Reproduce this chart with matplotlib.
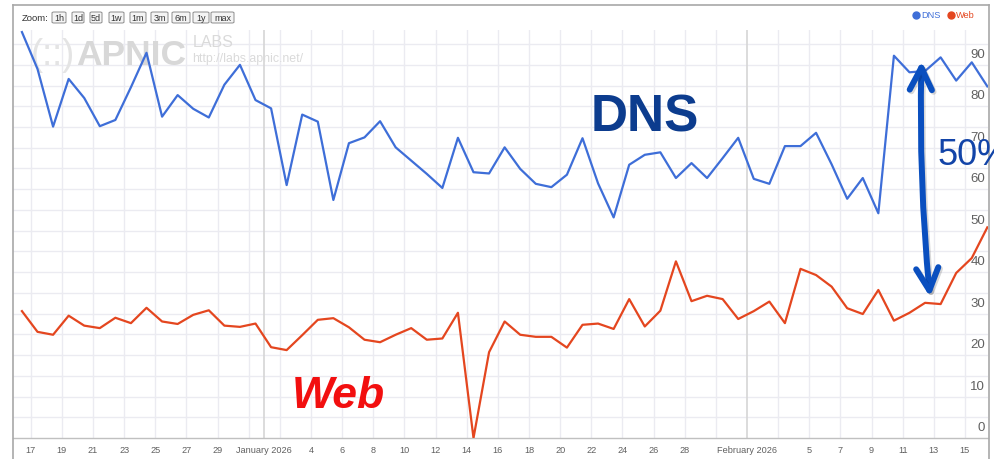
import matplotlib
matplotlib.use("Agg")
import matplotlib.pyplot as plt
import matplotlib.patheffects as pe
import numpy as np
import pandas as pd
from matplotlib.patches import FancyArrowPatch, FancyBboxPatch
from matplotlib.lines import Line2D

plt.rcParams['font.family'] = ['Liberation Sans', 'DejaVu Sans']

# daily samples, 16 Dec 2025 .. 16 Feb 2026
dates = pd.date_range("2025-12-16 10:30", periods=63, freq="D")

dns = [97.9, 89.0, 75.1, 86.6, 82.0, 75.2, 76.7, 84.6, 92.9, 77.5,
       82.7, 79.4, 77.3, 85.2, 90.0, 81.5, 79.5, 61.0, 78.0, 76.3,
       57.4, 71.1, 72.5, 76.4, 70.1, 66.9, 63.7, 60.3, 72.4, 64.1,
       63.8, 70.1, 64.9, 61.3, 60.5, 63.5, 72.3, 61.4, 53.2, 65.9,
       68.3, 68.9, 62.7, 66.3, 62.7, 67.5, 72.4, 62.5, 61.3, 70.4,
       70.4, 73.6, 66.0, 57.7, 62.7, 54.2, 92.2, 88.2, 88.5, 91.8,
       86.2, 90.6, 84.8]

web = [30.6, 25.6, 24.9, 29.5, 27.1, 26.5, 29.0, 27.7, 31.4, 28.1,
       27.5, 29.7, 30.8, 27.1, 26.8, 27.6, 21.9, 21.2, 24.8, 28.5,
       28.9, 26.7, 23.7, 23.1, 24.9, 26.5, 23.7, 24.0, 30.2, 0.0,
       20.7, 28.1, 24.9, 24.4, 24.4, 21.8, 27.3, 27.6, 26.3, 33.5,
       26.9, 30.7, 42.6, 33.0, 34.3, 33.5, 28.7, 30.6, 32.9, 27.7,
       40.8, 39.3, 36.5, 31.3, 29.9, 35.7, 28.3, 30.2, 32.6, 32.3,
       39.8, 43.4, 50.8]

tick_days = ["2025-12-17", "2025-12-19", "2025-12-21", "2025-12-23", "2025-12-25",
             "2025-12-27", "2025-12-29", "2026-01-01", "2026-01-04", "2026-01-06",
             "2026-01-08", "2026-01-10", "2026-01-12", "2026-01-14", "2026-01-16",
             "2026-01-18", "2026-01-20", "2026-01-22", "2026-01-24", "2026-01-26",
             "2026-01-28", "2026-02-01", "2026-02-05", "2026-02-07", "2026-02-09",
             "2026-02-11", "2026-02-13", "2026-02-15"]
tick_labels = ["17", "19", "21", "23", "25", "27", "29", "January 2026", "4", "6",
               "8", "10", "12", "14", "16", "18", "20", "22", "24", "26",
               "28", "February 2026", "5", "7", "9", "11", "13", "15"]
extra_grid_days = ["2025-12-31", "2026-01-02", "2026-01-30", "2026-02-03"]
month_days = ["2026-01-01", "2026-02-01"]
y_labels = list(range(0, 100, 10))

zoom_buttons = ["1h", "1d", "5d", "1w", "1m", "3m", "6m", "1y", "max"]

W, H = 995, 460
fig = plt.figure(figsize=(W / 100, H / 100), dpi=100)


def fx(x):
    return x / W


def fy(y):
    return 1 - y / H


ax = fig.add_axes([fx(13), fy(439), (988 - 13) / W, (439 - 31) / H])
ax.set_xlim(pd.Timestamp("2025-12-15 20:43"), pd.Timestamp("2026-02-16 11:31"))
ax.set_ylim(0, 98.4)

# grid
for v in np.arange(5, 100, 5):
    ax.axhline(v, color='#ebebf1', lw=1.0, zorder=0.5)
for d in list(tick_days) + extra_grid_days:
    if d in month_days:
        continue
    ax.axvline(pd.Timestamp(d), color='#ebebf1', lw=1.0, zorder=0.5)
for d in month_days:
    ax.axvline(pd.Timestamp(d), color='#d6d6d6', lw=1.2, zorder=0.6)

for s in ['top', 'right', 'left']:
    ax.spines[s].set_visible(False)
ax.spines['bottom'].set_color('#c0c0c0')
ax.spines['bottom'].set_linewidth(1.0)

ax.set_yticks([])
ax.set_xticks(pd.to_datetime(tick_days))
ax.set_xticklabels(tick_labels)
ax.tick_params(axis='x', length=0, pad=5.2, labelsize=6.6, labelcolor='#606060')

for v in y_labels:
    ax.annotate(str(v), xy=(1, v), xycoords=('axes fraction', 'data'),
                xytext=(-3, 11), textcoords='offset pixels',
                ha='right', va='center', fontsize=9.5, color='#606060')

# watermark
ax.text(fx(31), fy(65), "(::)", transform=fig.transFigure, fontsize=26,
        color='#e4e4e4', ha='left', va='baseline', zorder=0.7)
ax.text(fx(76), fy(65), "APNIC", transform=fig.transFigure, fontsize=25.5,
        color='#d8d8d8', fontweight='bold', ha='left', va='baseline', zorder=0.7)
ax.text(fx(193), fy(47), "LABS", transform=fig.transFigure, fontsize=11.5,
        color='#dadada', ha='left', va='baseline', zorder=0.7)
ax.text(fx(192), fy(62), "http://labs.apnic.net/", transform=fig.transFigure,
        fontsize=8.9, color='#dadada', ha='left', va='baseline', zorder=0.7)

# series
ax.plot(dates, dns, color='#3e6ed8', lw=1.6, zorder=3)
ax.plot(dates, web, color='#e4461f', lw=1.6, zorder=3)

# frame
for xs, ys in [((12.5, 989.5), (6, 6)), ((12.5, 12.5), (6, 460)), ((989.5, 989.5), (6, 460))]:
    fig.add_artist(Line2D([fx(x) for x in xs], [fy(y) for y in ys],
                          color='#a8a8a8', lw=1.2))

# zoom bar
fig.text(fx(22), fy(18.5), "Zoom:", fontsize=6.8, color='#333333', ha='left', va='center')
btn_x = [52, 72, 90, 109, 130, 151, 172, 193, 211]
btn_w = [14, 12, 12, 15, 16, 17, 18, 16, 23]
for lab, bx, bw in zip(zoom_buttons, btn_x, btn_w):
    fig.add_artist(FancyBboxPatch((fx(bx), fy(24)), bw / W, 11 / H,
                                  boxstyle="round,pad=0,rounding_size=0.002",
                                  transform=fig.transFigure, facecolor='#f4f4f4',
                                  edgecolor='#8c8c8c', lw=0.7))
    fig.text(fx(bx + bw / 2), fy(18.5), lab, fontsize=6.5, color='#333333',
             ha='center', va='center')

# legend
fig.add_artist(Line2D([fx(916)], [fy(16)], marker='o', ms=5, color='#3e6ed8', lw=0))
fig.text(fx(921), fy(16), "DNS", fontsize=6.6, color='#3e6ed8', ha='left', va='center')
fig.add_artist(Line2D([fx(951)], [fy(16)], marker='o', ms=5, color='#e4461f', lw=0))
fig.text(fx(956), fy(16), "Web", fontsize=6.6, color='#e4461f', ha='left', va='center')

# hand-drawn annotations
fig.text(fx(591), fy(131), "DNS", fontsize=37, fontweight='bold', color='#0c3c8e',
         ha='left', va='baseline')
fig.text(fx(292), fy(408), "Web", fontsize=32, fontweight='bold', style='italic',
         color='#f20f0f', ha='left', va='baseline')
fig.text(fx(938), fy(165), "50%", fontsize=26, color='#1244a8',
         ha='left', va='baseline')

arrow = FancyArrowPatch((fx(921.5), fy(62)), (fx(930), fy(298)),
                        transform=fig.transFigure,
                        arrowstyle='<->,head_length=16,head_width=8',
                        connectionstyle='arc3,rad=0.03',
                        color='#0a4fbf', lw=4.3, shrinkA=0, shrinkB=0,
                        capstyle='round', joinstyle='round', mutation_scale=1)
arrow.set_path_effects([pe.SimpleLineShadow(offset=(1.2, -1.2), shadow_color='k', alpha=0.15),
                        pe.Normal()])
fig.add_artist(arrow)

fig.savefig("out.png", dpi=100)
